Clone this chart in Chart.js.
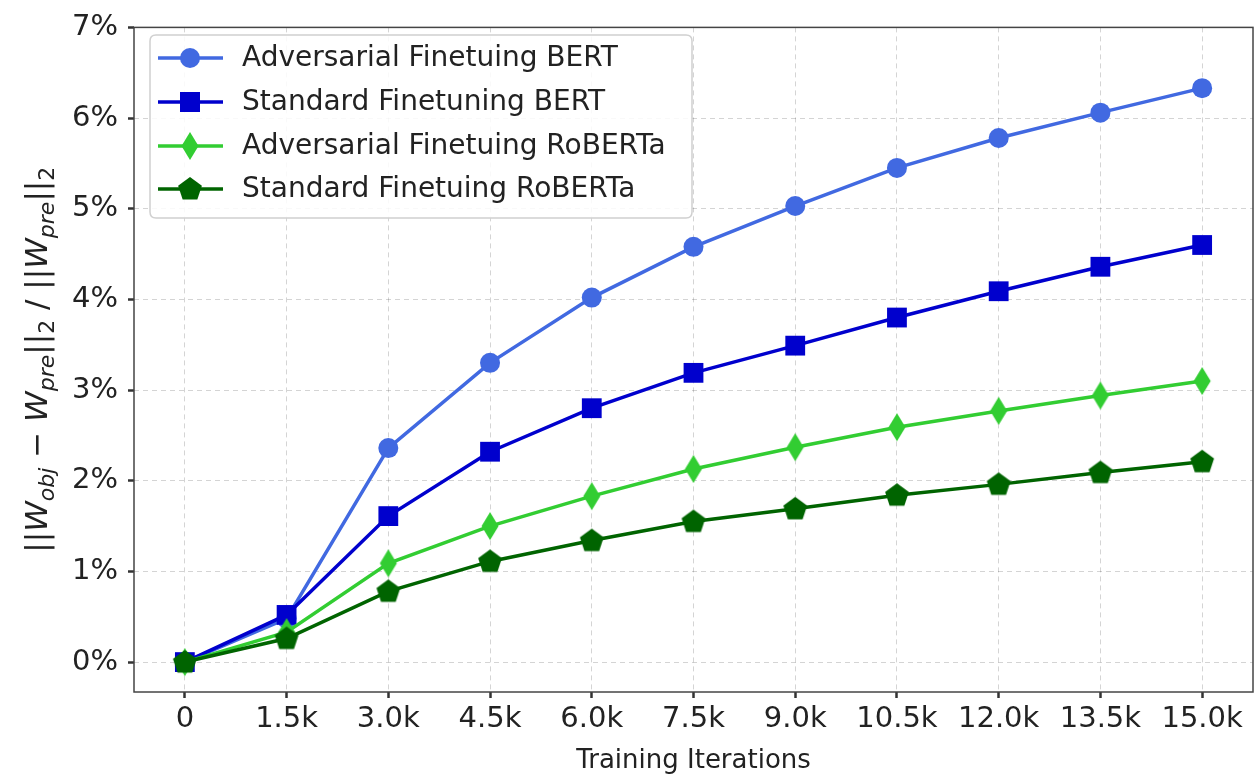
<!DOCTYPE html>
<html><head><meta charset="utf-8">
<script src="https://cdn.jsdelivr.net/npm/chart.js@4.4.1/dist/chart.umd.min.js"></script>
<style>html,body{margin:0;padding:0;background:#fff;}#wrap{width:1255px;height:777px;}</style>
</head><body><div id="wrap"><canvas id="c" width="1255" height="777"></canvas></div>
<script>
// ---- data ----
const iterations = [0, 1.5, 3.0, 4.5, 6.0, 7.5, 9.0, 10.5, 12.0, 13.5, 15.0];
const xTickLabels = ['0', '1.5k', '3.0k', '4.5k', '6.0k', '7.5k', '9.0k', '10.5k', '12.0k', '13.5k', '15.0k'];
const yTickValues = [0, 1, 2, 3, 4, 5, 6, 7];
const yTickLabels = ['0%', '1%', '2%', '3%', '4%', '5%', '6%', '7%'];
const advBERT    = [0, 0.48, 2.36, 3.30, 4.02, 4.58, 5.03, 5.45, 5.78, 6.06, 6.33];
const stdBERT    = [0, 0.52, 1.61, 2.32, 2.80, 3.19, 3.49, 3.80, 4.09, 4.36, 4.60];
const advRoBERTa = [0, 0.33, 1.09, 1.50, 1.83, 2.13, 2.37, 2.59, 2.77, 2.94, 3.10];
const stdRoBERTa = [0, 0.26, 0.78, 1.11, 1.34, 1.55, 1.69, 1.84, 1.96, 2.09, 2.21];
const seriesNames = ['Adversarial Finetuing BERT', 'Standard Finetuning BERT', 'Adversarial Finetuing RoBERTa', 'Standard Finetuing RoBERTa'];
const seriesColors = ['#4169E1', '#0000CD', '#32CD32', '#006400'];
const xTitle = 'Training Iterations';
// y title pieces: [text, italic, subscript]
const yTitleParts = [['||', false, false], ['W', true, false], ['obj', true, true], [' \u2212 ', false, false], ['W', true, false], ['pre', true, true], ['||', false, false], ['2', false, true], [' / ', false, false], ['||', false, false], ['W', true, false], ['pre', true, true], ['||', false, false], ['2', false, true]];

const FONT = "'DejaVu Sans', sans-serif";

// ---- custom marker images ----
function makeThinDiamond(color) {
  const c = document.createElement('canvas'); c.width = 20; c.height = 30;
  const g = c.getContext('2d'); g.fillStyle = color;
  g.beginPath(); g.moveTo(10, 1); g.lineTo(18.5, 15); g.lineTo(10, 29); g.lineTo(1.5, 15); g.closePath(); g.fill();
  return c;
}
function makePentagon(color) {
  const c = document.createElement('canvas'); c.width = 28; c.height = 28;
  const g = c.getContext('2d'); g.fillStyle = color; const r = 12.5, cx = 14, cy = 14.5;
  g.beginPath();
  for (let k = 0; k < 5; k++) { const a = -Math.PI / 2 + k * 2 * Math.PI / 5; const px = cx + r * Math.cos(a), py = cy + r * Math.sin(a); k ? g.lineTo(px, py) : g.moveTo(px, py); }
  g.closePath(); g.fill();
  return c;
}
const diamondImg = makeThinDiamond(seriesColors[2]);
const pentagonImg = makePentagon(seriesColors[3]);
const seriesStyles = ['circle', 'rect', diamondImg, pentagonImg];
const seriesRadius = [10, 14, 10, 10];

function toPoints(vals) { return iterations.map((x, i) => ({ x: x, y: vals[i] })); }
const allSeries = [advBERT, stdBERT, advRoBERTa, stdRoBERTa];

const datasets = allSeries.map((vals, i) => ({
  label: seriesNames[i],
  data: toPoints(vals),
  borderColor: seriesColors[i],
  backgroundColor: seriesColors[i],
  pointBackgroundColor: seriesColors[i],
  pointBorderColor: seriesColors[i],
  pointBorderWidth: 0,
  borderWidth: 3.5,
  pointStyle: seriesStyles[i],
  pointRadius: seriesRadius[i],
  pointHoverRadius: seriesRadius[i],
  tension: 0,
  order: 3 - i,
  clip: false
}));

// ---- plugins ----
const framePlugin = {
  id: 'frame',
  afterDatasetsDraw(chart) {
    const { ctx, chartArea: a } = chart;
    ctx.save(); ctx.strokeStyle = '#444'; ctx.lineWidth = 1.5;
    ctx.strokeRect(a.left, a.top, a.right - a.left, a.bottom - a.top);
    ctx.restore();
  }
};

function drawMarker(ctx, i, x, y) {
  const col = seriesColors[i];
  ctx.fillStyle = col;
  if (i === 0) { ctx.beginPath(); ctx.arc(x, y, 10, 0, Math.PI * 2); ctx.fill(); }
  else if (i === 1) { ctx.fillRect(x - 10, y - 10, 20, 20); }
  else { const img = seriesStyles[i]; ctx.drawImage(img, x - img.width / 2, y - img.height / 2); }
}

const legendPlugin = {
  id: 'insideLegend',
  afterDraw(chart) {
    const ctx = chart.ctx;
    const bx = 150, by = 35, bw = 542, bh = 183, r = 6;
    ctx.save();
    ctx.beginPath();
    ctx.moveTo(bx + r, by); ctx.lineTo(bx + bw - r, by); ctx.quadraticCurveTo(bx + bw, by, bx + bw, by + r);
    ctx.lineTo(bx + bw, by + bh - r); ctx.quadraticCurveTo(bx + bw, by + bh, bx + bw - r, by + bh);
    ctx.lineTo(bx + r, by + bh); ctx.quadraticCurveTo(bx, by + bh, bx, by + bh - r);
    ctx.lineTo(bx, by + r); ctx.quadraticCurveTo(bx, by, bx + r, by); ctx.closePath();
    ctx.fillStyle = 'rgba(255,255,255,0.85)'; ctx.fill();
    ctx.strokeStyle = '#d0d0d0'; ctx.lineWidth = 1.5; ctx.stroke();
    const rows = [58, 102, 146, 189];
    seriesNames.forEach((name, i) => {
      const y = rows[i];
      ctx.strokeStyle = seriesColors[i]; ctx.lineWidth = 3.5;
      ctx.beginPath(); ctx.moveTo(158, y); ctx.lineTo(223, y); ctx.stroke();
      drawMarker(ctx, i, 190, y);
      ctx.fillStyle = '#222'; ctx.font = '28px ' + FONT; ctx.textBaseline = 'middle'; ctx.textAlign = 'left';
      ctx.fillText(name, 242, y + 1);
    });
    ctx.restore();
  }
};

const yTitlePlugin = {
  id: 'yTitle',
  afterDraw(chart) {
    const ctx = chart.ctx; const a = chart.chartArea;
    const size = 31, subSize = 22;
    const fontOf = (it, sub) => (it ? 'italic ' : '') + (sub ? subSize : size) + 'px ' + FONT;
    let total = 0;
    yTitleParts.forEach(p => { ctx.font = fontOf(p[1], p[2]); total += ctx.measureText(p[0]).width; });
    ctx.save();
    ctx.translate(47, (a.top + a.bottom) / 2);
    ctx.rotate(-Math.PI / 2);
    ctx.fillStyle = '#222'; ctx.textBaseline = 'alphabetic'; ctx.textAlign = 'left';
    let x = -total / 2;
    yTitleParts.forEach(p => {
      ctx.font = fontOf(p[1], p[2]);
      ctx.fillText(p[0], x, p[2] ? 7 : 0);
      x += ctx.measureText(p[0]).width;
    });
    ctx.restore();
  }
};

new Chart(document.getElementById('c'), {
  type: 'line',
  data: { datasets: datasets },
  options: {
    responsive: false,
    animation: false,
    devicePixelRatio: 1,
    layout: { autoPadding: false, padding: { top: 21, right: 2, left: 0, bottom: 0 } },
    plugins: { legend: { display: false }, tooltip: { enabled: false } },
    scales: {
      x: {
        type: 'linear', min: -0.75, max: 15.75,
        afterBuildTicks: s => { s.ticks = iterations.map(v => ({ value: v })); },
        afterFit: s => { s.height = 85; s.paddingLeft = 0; s.paddingRight = 0; },
        ticks: {
          autoSkip: false, maxRotation: 0, padding: 4, color: '#222',
          font: { family: FONT, size: 29 },
          callback: (v) => { const i = iterations.indexOf(v); return i >= 0 ? xTickLabels[i] : ''; }
        },
        grid: { color: 'rgba(0,0,0,0.17)', lineWidth: 1, tickLength: 6, tickColor: '#333', tickWidth: 2.5, tickBorderDash: [] },
        border: { display: false, dash: [5, 4] },
        title: { display: true, text: xTitle, color: '#222', font: { family: FONT, size: 26 }, padding: { top: 0, bottom: 0 } }
      },
      y: {
        type: 'linear', min: -0.33, max: 7.0,
        afterBuildTicks: s => { s.ticks = yTickValues.map(v => ({ value: v })); },
        afterFit: s => { s.width = 134; },
        ticks: {
          padding: 10, color: '#222',
          font: { family: FONT, size: 29 },
          callback: (v) => { const i = yTickValues.indexOf(v); return i >= 0 ? yTickLabels[i] : ''; }
        },
        grid: { color: 'rgba(0,0,0,0.17)', lineWidth: 1, tickLength: 6, tickColor: '#333', tickWidth: 2.5, tickBorderDash: [] },
        border: { display: false, dash: [5, 4] },
        title: { display: false }
      }
    }
  },
  plugins: [framePlugin, legendPlugin, yTitlePlugin]
});
</script>
</body></html>
